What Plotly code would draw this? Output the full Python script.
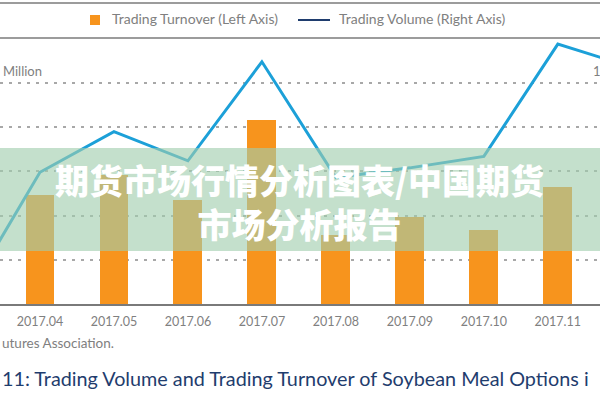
import plotly.graph_objects as go

# ---------------- data ----------------
months = ["2017.03", "2017.04", "2017.05", "2017.06", "2017.07",
          "2017.08", "2017.09", "2017.10", "2017.11", "2017.12"]
turnover = [None, 247, 292, 235, 416, 156, 197, 167, 265, None]      # left axis
volume = [7, 149, 195, 162, 274, 143, 154, 167, 294, 268]            # right axis

legend_turnover = "Trading Turnover (Left Axis)"
legend_volume = "Trading Volume (Right Axis)"
left_unit = "Million"
right_unit = "1"
source_text = "utures Association."
title_text = "11: Trading Volume and Trading Turnover of Soybean Meal Options i"
banner_text = "期货市场行情分析图表/中国期货<br>市场分析报告"

ORANGE = "#F7941D"
BLUE = "#1CA0D8"
NAVY = "#1F3D6E"
GREY = "#808080"

W, H = 600, 400
TOP, BOTTOM = 40, 304          # plot area in pixels


def py(p):                     # pixel y -> paper y
    return (BOTTOM - p) / (BOTTOM - TOP)


def px(p):                     # pixel x -> paper x
    return p / W


fig = go.Figure()
fig.add_trace(go.Bar(x=months, y=turnover, marker_color=ORANGE,
                     marker_line_width=0, width=0.39, name=legend_turnover))
fig.add_trace(go.Scatter(x=months, y=volume, yaxis="y2", mode="lines",
                         line=dict(color=BLUE, width=3), name=legend_volume))

shapes = [
    dict(type="line", xref="paper", yref="paper", x0=0, x1=1, y0=py(3), y1=py(3),
         line=dict(color="#9C9C9C", width=2)),
    dict(type="line", xref="paper", yref="paper", x0=0, x1=1, y0=py(38), y1=py(38),
         line=dict(color="#9C9C9C", width=2)),
    # legend marks
    dict(type="rect", xref="paper", yref="paper", x0=px(90), x1=px(100),
         y0=py(25), y1=py(15), fillcolor=ORANGE, line_width=0),
    dict(type="line", xref="paper", yref="paper", x0=px(298), x1=px(330),
         y0=py(20), y1=py(20), line=dict(color=NAVY, width=2)),
    # translucent banner
    dict(type="rect", xref="paper", yref="paper", x0=0, x1=1,
         y0=py(251), y1=py(148), fillcolor="rgba(160,205,172,0.62)",
         line_width=0, layer="above"),
]

font_fam = "Lato, 'Open Sans', sans-serif"
annotations = [
    dict(text=legend_turnover, xref="paper", yref="paper", x=px(110), y=py(19),
         xanchor="left", yanchor="middle", showarrow=False,
         font=dict(family=font_fam, size=14, color=GREY)),
    dict(text=legend_volume, xref="paper", yref="paper", x=px(337), y=py(19),
         xanchor="left", yanchor="middle", showarrow=False,
         font=dict(family=font_fam, size=14, color=GREY)),
    dict(text=left_unit, xref="paper", yref="paper", x=px(1), y=py(71),
         xanchor="left", yanchor="middle", showarrow=False,
         font=dict(family=font_fam, size=13, color=GREY)),
    dict(text=right_unit, xref="paper", yref="paper", x=px(591), y=py(71),
         xanchor="left", yanchor="middle", showarrow=False,
         font=dict(family=font_fam, size=13, color=GREY)),
    dict(text=source_text, xref="paper", yref="paper", x=0, y=py(343),
         xanchor="left", yanchor="middle", showarrow=False,
         font=dict(family=font_fam, size=13.5, color=GREY)),
    dict(text=title_text, xref="paper", yref="paper", x=0, y=py(378),
         xanchor="left", yanchor="middle", showarrow=False,
         font=dict(family=font_fam, size=19.8, color=NAVY)),
    dict(text=banner_text, xref="paper", yref="paper",
         x=px(299), y=py(201), xanchor="center", yanchor="middle",
         showarrow=False, align="center",
         font=dict(family="'Noto Sans CJK SC', sans-serif", size=34,
                   color="white", weight=900)),
]

ystep = 100
fig.update_layout(
    width=W, height=H,
    margin=dict(l=0, r=0, t=TOP, b=H - BOTTOM, pad=0),
    paper_bgcolor="white", plot_bgcolor="white",
    showlegend=False,
    bargap=0,
    xaxis=dict(type="category", range=[0.46, 8.57], showgrid=False,
               showline=True, linecolor="#7A7A7A", linewidth=2,
               ticks="outside", ticklen=5, tickcolor="rgba(0,0,0,0)",
               tickfont=dict(family=font_fam, size=12.5, color=GREY)),
    yaxis=dict(range=[0, ystep * (BOTTOM - TOP) / 44.2], dtick=ystep,
               showgrid=True, gridcolor="#A8A8A8", gridwidth=2,
               griddash="3px,6px", zeroline=False, showticklabels=False),
    yaxis2=dict(overlaying="y", side="right",
                range=[0, 50 * (BOTTOM - TOP) / 44.2],
                showgrid=False, zeroline=False, showticklabels=False),
    shapes=shapes,
    annotations=annotations,
)

fig.write_html("out.html",
               config={"displayModeBar": False},
               post_script="document.body.style.margin='0';"
                           "document.body.style.overflow='hidden';")
